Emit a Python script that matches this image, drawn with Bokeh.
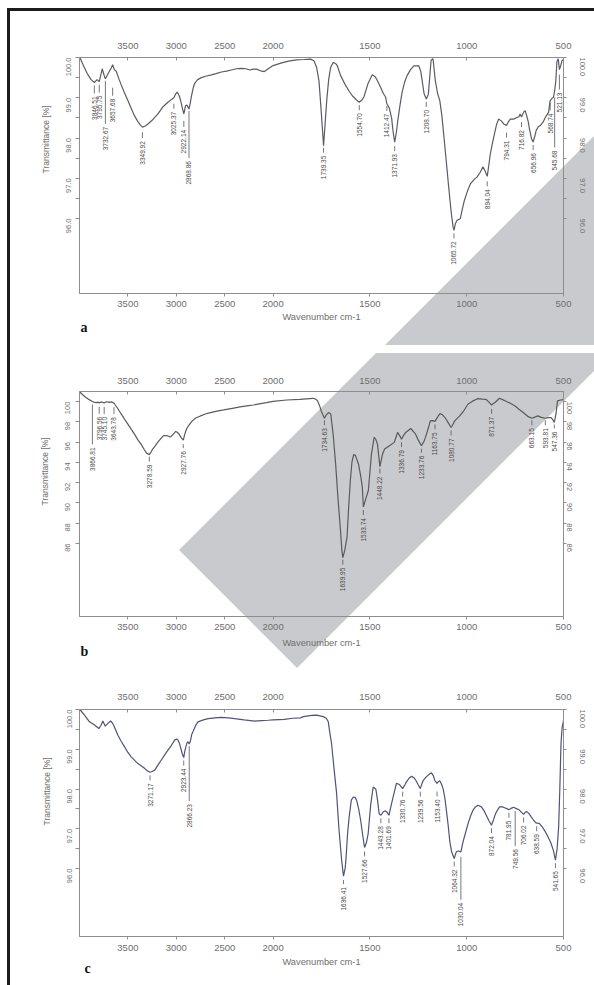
import math
from urllib.parse import quote
import numpy as np
from bokeh.plotting import figure
from bokeh.models import Range1d, LinearAxis, FixedTicker, Title, NumeralTickFormatter
from bokeh.layouts import column
from bokeh.embed import file_html
from bokeh.resources import INLINE
from bokeh.core.properties import value

# ---------------- data ----------------
X_TICKS = [3500, 3000, 2500, 2000, 1500, 1000, 500]

a_wn = [3996, 3960, 3920, 3880, 3846.51, 3818, 3796, 3765, 3745, 3732.67, 3700, 3672, 3657.68, 3640, 3621,
        3590, 3569, 3535, 3500, 3460, 3431, 3400, 3370, 3349.92, 3320, 3293, 3250, 3190, 3140, 3086, 3050,
        3025.37, 3005, 2990, 2970, 2955, 2935, 2922.14, 2905, 2890, 2868.86, 2855, 2845, 2825, 2810, 2780,
        2741, 2690, 2638, 2590, 2534, 2480, 2431, 2380, 2328, 2280, 2241, 2205, 2172, 2130, 2090, 2050,
        2000, 1960, 1920, 1880, 1840, 1806, 1789, 1775, 1763, 1752, 1739.35, 1730, 1723, 1713, 1703, 1689,
        1675, 1668, 1651, 1625, 1605, 1591, 1570, 1554.70, 1540, 1531, 1510, 1488, 1475, 1466, 1445, 1430,
        1419, 1412.47, 1400, 1388, 1380, 1371.93, 1363, 1356, 1345, 1334, 1320, 1308, 1290, 1273, 1247,
        1237, 1230, 1220, 1208.70, 1198, 1184, 1174, 1162, 1150, 1139, 1128, 1119, 1105, 1093, 1080, 1070,
        1065.72, 1058, 1050, 1040, 1033, 1022, 1012, 995, 981, 960, 947, 930, 916, 905, 894.04, 885, 878,
        868, 857, 845, 835, 820, 809, 794.31, 785, 775, 758, 741, 730, 724, 716.82, 705, 698, 690, 682, 675,
        665, 656.96, 648, 641, 630, 620, 605, 594, 585, 577, 573, 568.74, 560, 552, 545.68, 540, 534, 527,
        521.13, 514, 508, 500]
a_tr = [100.0, 99.8, 99.6, 99.45, 99.38, 99.45, 99.40, 99.72, 99.55, 99.47, 99.62, 99.74, 99.82, 99.70, 99.66,
        99.45, 99.32, 99.12, 98.93, 98.70, 98.55, 98.42, 98.32, 98.27, 98.30, 98.35, 98.44, 98.60, 98.77, 98.89, 98.96,
        99.00, 99.10, 99.14, 99.05, 98.93, 98.72, 98.60, 98.80, 98.82, 98.72, 98.88, 99.02, 99.25, 99.36, 99.45,
        99.50, 99.54, 99.57, 99.60, 99.64, 99.66, 99.69, 99.72, 99.73, 99.72, 99.69, 99.71, 99.71, 99.67, 99.65, 99.72,
        99.80, 99.86, 99.91, 99.94, 99.95, 99.96, 99.92, 99.75, 99.42, 98.70, 97.81, 98.45, 98.93, 99.45, 99.75, 99.88,
        99.84, 99.79, 99.55, 99.30, 99.15, 99.05, 98.95, 98.89, 98.95, 99.02, 99.35, 99.57, 99.53, 99.47, 99.26, 99.10,
        99.02, 98.85, 98.75, 98.50, 98.15, 97.90, 98.15, 98.43, 98.80, 99.13, 99.40, 99.55, 99.70, 99.79, 99.79,
        99.65, 99.42, 99.10, 98.97, 99.09, 99.93, 99.97, 99.42, 99.10, 98.93, 98.55, 98.10, 97.40, 96.78, 96.15, 95.78,
        95.71, 95.88, 95.96, 95.98, 96.00, 96.25, 96.45, 96.70, 96.86, 96.98, 97.03, 97.15, 97.29, 97.18, 97.05, 97.35, 97.61,
        97.85, 98.10, 98.35, 98.47, 98.42, 98.35, 98.31, 98.40, 98.47, 98.47, 98.51, 98.53, 98.60, 98.52, 98.65, 98.68, 98.55, 98.40, 98.20,
        97.98, 97.90, 98.05, 98.19, 98.28, 98.31, 98.40, 98.51, 98.58, 98.64, 98.80, 98.93, 98.98, 99.01, 99.18, 99.40, 99.90, 99.97,
        99.70, 99.80, 99.92, 99.95]
a_labels = ["3846.51", "3795.75", "3732.67", "3657.68", "3349.92", "3025.37", "2922.14", "2868.86", "1739.35",
            "1554.70", "1412.47", "1371.93", "1208.70", "1065.72", "894.04", "794.31", "716.82", "656.96",
            "568.74", "545.68", "521.13"]
a_drop = [3, 3, 2, 23, 5, 6, 7, 2, 2, 3, 2, 4, 3, 3, 5, 7, 5, 3, 2, 7, 5]
a_lead = [8, 8, 43, 8, 6, 5, 6, 47, 5, 5, 5, 5, 5, 5, 5, 5, 5, 5, 8, 50, 15]

b_wn = [3996, 3970, 3943, 3910, 3875, 3866.81, 3845, 3824, 3810, 3796.56, 3775, 3745.10, 3722, 3690, 3670, 3643.78,
        3630, 3600, 3568, 3535, 3500, 3465, 3432, 3400, 3364, 3330, 3306, 3278.59, 3260, 3244, 3220, 3193, 3160,
        3135, 3110, 3091, 3070, 3057, 3030, 3006, 2990, 2972, 2950, 2927.76, 2915, 2900, 2886, 2860, 2835, 2800,
        2750, 2700, 2647, 2580, 2511, 2420, 2341, 2270, 2204, 2130, 2068, 2000, 1930, 1862, 1795, 1780, 1770,
        1760, 1750, 1744, 1734.63, 1725, 1714, 1706, 1702, 1690, 1677, 1665, 1652, 1645, 1639.95, 1630, 1618,
        1610, 1601, 1593, 1584, 1575, 1559, 1548, 1539, 1533.74, 1520, 1508, 1492, 1478, 1470, 1461, 1448.22,
        1435, 1424, 1399, 1374, 1357, 1345, 1336.79, 1325, 1315, 1289, 1264, 1250, 1233.76, 1220, 1213, 1195,
        1188, 1175, 1163.75, 1150, 1138, 1125, 1112, 1095, 1080.77, 1070, 1062, 1036, 1015, 994, 970, 944, 920,
        901, 885, 871.37, 860, 851, 831, 815, 800, 775, 750, 730, 708, 685, 663.15, 645, 632, 615, 593.81, 580,
        564, 555, 547.36, 538, 531, 514, 500]
b_tr = [100.95, 100.70, 100.49, 100.25, 100.07, 100.02, 99.93, 99.90, 99.95, 99.88, 99.97, 99.87, 99.99, 99.93, 99.98, 99.85,
        99.67, 99.25, 98.76, 98.28, 97.78, 97.26, 96.79, 96.28, 95.81, 95.25, 94.90, 94.77, 95.05, 95.32, 95.62, 95.98, 96.35,
        96.63, 96.66, 96.63, 96.55, 96.53, 96.80, 97.06, 96.98, 96.79, 96.45, 96.20, 96.70, 97.15, 97.45, 97.80, 98.10, 98.38,
        98.59, 98.78, 98.92, 99.06, 99.18, 99.34, 99.48, 99.58, 99.67, 99.80, 99.90, 100.02, 100.16, 100.23, 100.33, 100.25, 100.07,
        99.60, 99.00, 98.76, 98.36, 98.70, 98.92, 98.85, 98.76, 96.80, 93.85, 90.50, 87.31, 85.40, 84.60, 85.30, 86.65,
        89.50, 92.22, 94.00, 94.77, 94.70, 93.85, 92.70, 91.56, 89.60, 90.50, 91.23, 94.83, 96.47, 96.30, 95.81, 93.59,
        94.80, 95.32, 95.65, 95.98, 96.96, 96.60, 96.30, 96.70, 96.96, 97.35, 96.79, 96.20, 95.65, 96.10, 96.47, 97.60,
        98.10, 98.12, 98.05, 98.50, 98.82, 98.70, 98.43, 97.90, 97.45, 97.80, 98.10, 98.59, 99.10, 99.74, 100.05, 100.29, 100.25,
        100.23, 99.95, 99.67, 99.85, 99.97, 100.33, 100.20, 100.07, 99.85, 99.57, 99.25, 98.92, 98.55, 98.36, 98.50, 98.59, 98.45, 98.36, 98.42,
        98.43, 98.20, 97.94, 98.90, 100.07, 100.16, 100.20]
b_labels = ["3866.81", "3796.56", "3745.10", "3643.78", "3278.59", "2927.76", "1734.63", "1639.95", "1533.74",
            "1448.22", "1336.79", "1233.76", "1163.75", "1080.77", "871.37", "663.15", "593.81", "547.36"]
b_drop = [3, 4, 4, 4, 2, 4, 2, 2, 3, 2, 3, 3, 3, 3, 4, 2, 2, 2]
b_lead = [40, 7, 7, 7, 5, 4, 5, 5, 5, 5, 5, 4, 5, 5, 5, 5, 5, 4]

c_wn = [3996, 3948, 3897, 3845, 3800, 3776, 3759, 3734, 3707, 3679, 3660, 3645, 3603, 3570, 3534, 3500, 3466, 3430,
        3397, 3360, 3328, 3300, 3271.17, 3250, 3224, 3190, 3155, 3120, 3086, 3050, 3017, 2995, 2983, 2968, 2955, 2940,
        2923.44, 2910, 2903, 2890, 2879, 2866.23, 2855, 2840, 2828, 2800, 2776, 2720, 2672, 2600, 2535, 2460, 2397,
        2300, 2190, 2120, 2052, 2000, 1942, 1900, 1858, 1844, 1800, 1775, 1741, 1725, 1715, 1708, 1698, 1685, 1672,
        1660, 1646, 1636.41, 1628, 1624, 1615, 1607, 1596, 1586, 1577, 1569, 1558, 1548, 1536, 1527.66, 1518, 1509,
        1496, 1483, 1475, 1469, 1460, 1452, 1443.28, 1432, 1423, 1412, 1401.69, 1392, 1380, 1363, 1350, 1345, 1330.76,
        1320, 1311, 1298, 1285, 1272, 1263, 1250, 1239.56, 1230, 1225, 1210, 1199, 1182, 1172, 1165, 1153.40, 1145,
        1139, 1130, 1122, 1113, 1105, 1096, 1088, 1078, 1064.32, 1058, 1053, 1044, 1030.04, 1019, 1006, 993, 980, 967,
        955, 942, 924, 910, 899, 885, 872.04, 862, 851, 840, 830, 815, 804, 790, 781.95, 768, 757, 749.56, 740, 730,
        718, 706.02, 697, 689, 678, 667, 655, 645, 638.59, 630, 624, 610, 598, 582, 564, 552, 541.65, 533, 525, 519,
        513, 507, 500]
c_tr = [100.0, 99.86, 99.69, 99.61, 99.52, 99.61, 99.71, 99.58, 99.65, 99.71, 99.66, 99.59, 99.35, 99.20, 99.06, 98.92, 98.81, 98.72,
        98.64, 98.58, 98.52, 98.46, 98.42, 98.44, 98.47, 98.60, 98.73, 98.86, 98.98, 99.10, 99.23, 99.26, 99.23, 99.15, 99.04, 98.90,
        98.79, 98.98, 99.04, 99.16, 99.19, 99.13, 99.20, 99.38, 99.44, 99.60, 99.69, 99.74, 99.77, 99.79, 99.80, 99.79, 99.77,
        99.74, 99.71, 99.72, 99.73, 99.74, 99.75, 99.78, 99.79, 99.82, 99.85, 99.86, 99.82, 99.78, 99.69, 99.45, 99.14, 98.50, 97.89,
        97.00, 96.21, 95.81, 96.00, 96.21, 96.90, 97.30, 97.72, 97.80, 97.79, 97.72, 97.50, 97.22, 96.80, 96.53, 96.65, 96.88,
        97.60, 98.05, 98.02, 97.99, 97.70, 97.37, 97.34, 97.42, 97.45, 97.42, 97.34, 97.55, 97.80, 98.14, 98.12, 98.10, 98.01,
        98.10, 98.18, 98.27, 98.32, 98.28, 98.22, 98.10, 98.01, 98.15, 98.21, 98.30, 98.35, 98.41, 98.33, 98.22, 98.14, 98.19,
        98.21, 98.12, 98.01, 97.78, 97.47, 97.10, 96.71, 96.42, 96.25, 96.36, 96.42, 96.44, 96.42, 96.67, 96.90, 97.13, 97.32, 97.47,
        97.55, 97.59, 97.55, 97.45, 97.34, 97.20, 97.09, 97.22, 97.38, 97.48, 97.55, 97.55, 97.53, 97.50, 97.48, 97.52, 97.54, 97.52, 97.50, 97.48,
        97.42, 97.36, 97.42, 97.43, 97.38, 97.30, 97.22, 97.16, 97.14, 97.14, 97.13, 97.05, 96.96, 96.82, 96.63, 96.45, 96.21, 96.50, 97.05, 98.00,
        99.14, 99.55, 99.72]
c_labels = ["3271.17", "2923.44", "2866.23", "1636.41", "1527.66", "1443.28", "1401.69", "1330.76", "1239.56",
            "1153.40", "1064.32", "1030.04", "872.04", "781.95", "749.56", "706.02", "638.59", "541.65"]
c_drop = [3, 3, 2, 4, 4, 3, 3, 3, 3, 8, 3, 5, 3, 3, 3, 3, 3, 3]
c_lead = [5, 5, 55, 4, 5, 5, 5, 5, 5, 5, 5, 43, 5, 5, 35, 5, 5, 5]

# ---------------- page decoration: grey scan shading + page frame (page px) ----------------
PAGE_W, PAGE_H = 594, 985
DECOR_SVG = (
    "<svg xmlns='http://www.w3.org/2000/svg' width='594' height='985'>"
    "<polygon points='594,136 594,345 385,345' fill='rgb(201,202,205)'/>"
    "<polygon points='179,550 376,353 594,353 594,371 297,668' fill='rgb(201,202,205)'/>"
    "<rect x='7' y='8' width='587' height='3' fill='rgb(28,28,28)'/>"
    "<rect x='7' y='8' width='3' height='977' fill='rgb(28,28,28)'/>"
    "</svg>"
)

AX = "#8e8e8e"
TXT = "#6e6e6e"
FONT = "Liberation Sans"


def xform(w):
    w = np.asarray(w, dtype=float)
    return np.where(w >= 2000, 4000 - w, 2000 + 2 * (2000 - w))


def style_axis(ax, size):
    ax.axis_line_color = AX
    ax.major_tick_line_color = AX
    ax.minor_tick_line_color = AX
    ax.major_label_text_color = TXT
    ax.major_label_text_font = FONT
    ax.major_label_text_font_size = size


def build(wn, tr, labels, drops, leads, y0, y1, ymaj, yminor, yfmt, h, borders, letter, letter_off,
          letter_std, title_off, color, std, right_std):
    left, right, top, bottom = borders
    p = figure(width=PAGE_W, height=h, output_backend="svg", toolbar_location=None,
               x_range=Range1d(0, 5000), y_range=Range1d(y0, y1),
               min_border_left=left, min_border_right=right, min_border_top=top,
               min_border_bottom=bottom, background_fill_alpha=0, border_fill_alpha=0)
    p.grid.visible = False
    p.outline_line_color = AX

    xt = [int(v) for v in xform(X_TICKS)]
    over = {int(u): str(w) for u, w in zip(xt, X_TICKS)}

    bx = p.xaxis[0]
    bx.ticker = FixedTicker(ticks=xt)
    bx.major_label_overrides = over
    bx.major_tick_out = 3
    bx.major_tick_in = 0
    bx.major_label_standoff = std[2]
    bx.axis_label = "Wavenumber cm-1"
    bx.axis_label_text_font = FONT
    bx.axis_label_text_font_style = "normal"
    bx.axis_label_text_font_size = "9.3px"
    bx.axis_label_text_color = TXT
    bx.axis_label_standoff = std[3]
    style_axis(bx, "9.5px")

    tx = LinearAxis(ticker=FixedTicker(ticks=xt), major_label_overrides=over)
    tx.major_tick_out = 0
    tx.major_tick_in = 3
    tx.major_label_standoff = std[1]
    style_axis(tx, "9.5px")
    p.add_layout(tx, "above")

    ly = p.yaxis[0]
    ly.ticker = FixedTicker(ticks=ymaj, minor_ticks=yminor)
    ly.formatter = NumeralTickFormatter(format=yfmt)
    ly.major_label_orientation = math.pi / 2
    ly.major_tick_out = 4
    ly.major_tick_in = 0
    ly.minor_tick_out = 4
    ly.minor_tick_in = 0
    ly.major_label_standoff = std[0]
    style_axis(ly, "7.5px")

    ry = LinearAxis(ticker=FixedTicker(ticks=ymaj, minor_ticks=yminor),
                    formatter=NumeralTickFormatter(format=yfmt))
    ry.major_label_orientation = -math.pi / 2
    ry.major_tick_out = 3
    ry.major_tick_in = 0
    ry.minor_tick_out = 3
    ry.minor_tick_in = 0
    ry.major_label_standoff = right_std
    style_axis(ry, "7.5px")
    p.add_layout(ry, "right")

    # y-axis title placed off-centre as in the original
    p.add_layout(Title(text="Transmittance [%]", align="left", offset=title_off, standoff=20,
                       text_font=FONT, text_font_style="normal", text_font_size="8.5px",
                       text_color=TXT), "left")
    # panel letter
    p.add_layout(Title(text=letter, align="left", offset=letter_off, standoff=letter_std,
                       vertical_align="top",
                       text_font="Liberation Serif", text_font_style="bold", text_font_size="14px",
                       text_color="#111111"), "below")

    u = xform(wn)
    p.line(u, tr, line_color=color, line_width=1.2)

    ppu = (h - top - bottom) / (y1 - y0)
    wasc = np.asarray(wn, dtype=float)[::-1]
    tasc = np.asarray(tr, dtype=float)[::-1]
    pw = np.array([float(s) for s in labels])
    pt = np.interp(pw, wasc, tasc)
    pu = xform(pw)
    d = np.asarray(drops, dtype=float)
    L = np.asarray(leads, dtype=float)
    y_a = pt - d / ppu
    y_b = pt - (d + L) / ppu
    y_t = pt - (d + L + 3) / ppu
    p.segment(x0=pu, y0=y_a, x1=pu, y1=y_b, line_color="#555555", line_width=0.8)
    p.text(x=pu, y=y_t, text=labels, angle=math.pi / 2, text_align="right", text_baseline="middle",
           text_font=value(FONT), text_font_size="6.5px", text_color="#4a4a4a")
    return p


pa = build(a_wn, a_tr, a_labels, a_drop, a_lead, 94.14, 100.0, [96, 97, 98, 99, 100],
           [96.5, 97.5, 98.5, 99.5], "0.0", 340, (79, 31, 57, 47), "a", 1, -10, 120,
           "#5a5b68", (7, 9, 4, 2), 16)
pb = build(b_wn, b_tr, b_labels, b_drop, b_lead, 78.8, 101.0, [86, 88, 90, 92, 94, 96, 98, 100],
           [], "0", 332, (78, 25, 51, 56), "b", 1, -14, 111,
           "#5a5a5a", (8, 8, 4, 5), 3)
pc = build(c_wn, c_tr, c_labels, c_drop, c_lead, 94.29, 100.0, [96, 97, 98, 99, 100],
           [96.5, 97.5, 98.5, 99.5], "0.0", 313, (78, 30, 37, 49), "c", 5, -18, 111,
           "#50527a", (6, 10, 5, 3), 16)

bg = "url(\"data:image/svg+xml;utf8," + quote(DECOR_SVG) + "\")"
layout = column(pa, pb, pc, spacing=0,
                styles={"background-image": bg, "background-repeat": "no-repeat",
                        "background-size": "594px 985px", "background-position": "0 0",
                        "background-color": "white"})
open("out.html", "w").write(file_html(layout, INLINE))
